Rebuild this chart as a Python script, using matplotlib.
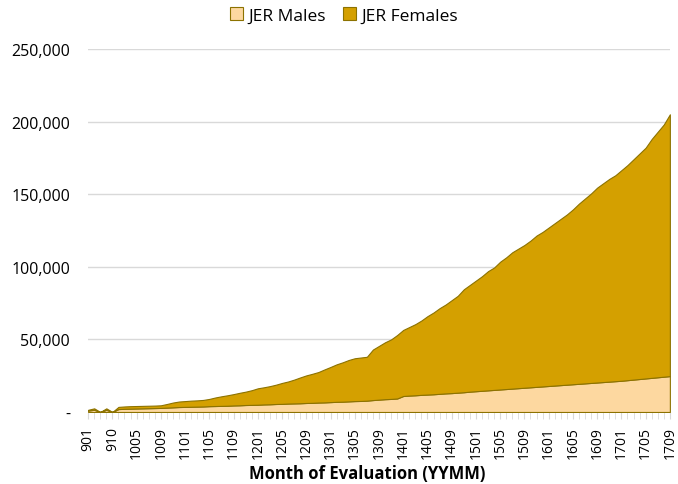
import matplotlib.pyplot as plt
import numpy as np

# month labels (YYMM); 2009 has gaps in the source data
months = ["901", "903", "905", "907", "910", "1002", "1003", "1004"]
for yy in range(10, 18):
    for mm in range(1, 13):
        if yy == 10 and mm < 5:
            continue
        if yy == 17 and mm > 9:
            continue
        months.append(f"{yy}{mm:02d}")

# values in thousands
males = [1.0, 1.5, 0, 1.5, 0, 2.0, 2.2, 2.3,
         2.4, 2.5, 2.6, 2.7, 2.8, 3.0, 3.2, 3.4,
         3.5, 3.6, 3.7, 3.8, 4.0, 4.1, 4.2, 4.3, 4.5, 4.6, 4.8, 4.9,
         5.0, 5.2, 5.3, 5.5, 5.6, 5.8, 5.9, 6.0, 6.2, 6.3, 6.5, 6.6,
         6.8, 7.0, 7.1, 7.3, 7.5, 7.6, 7.8, 8.2, 8.5, 8.8, 9.0, 9.3,
         11.0, 11.3, 11.5, 11.8, 12.0, 12.2, 12.5, 12.8, 13.0, 13.3, 13.6, 14.0,
         14.3, 14.6, 14.9, 15.2, 15.5, 15.8, 16.1, 16.4, 16.7, 17.0, 17.3, 17.6,
         17.9, 18.2, 18.5, 18.8, 19.1, 19.4, 19.7, 20.0, 20.3, 20.6, 20.9, 21.2,
         21.5, 21.9, 22.3, 22.7, 23.1, 23.5, 23.9, 24.3, 24.7]

females = [0.5, 1.0, 0, 1.0, 0, 1.5, 1.6, 1.7,
           1.7, 1.7, 1.7, 1.7, 1.8, 2.5, 3.3, 3.8,
           4.0, 4.2, 4.3, 4.5, 5.0, 5.9, 6.6, 7.2, 7.8, 8.6, 9.2, 10.1,
           11.3, 11.8, 12.5, 13.3, 14.4, 15.2, 16.4, 17.8, 19.0, 20.0, 21.0, 22.7,
           24.2, 25.8, 27.1, 28.5, 29.5, 29.9, 30.2, 34.8, 37.0, 39.2, 41.0, 43.7,
           45.5, 47.2, 49.0, 51.2, 54.0, 56.3, 59.0, 61.2, 64.0, 66.7, 70.9, 73.5,
           76.2, 78.9, 82.1, 84.3, 88.0, 90.7, 93.9, 96.1, 98.3, 101.0, 104.2, 106.4,
           109.1, 111.8, 114.5, 117.2, 120.4, 124.1, 127.3, 130.5, 134.2, 136.9, 139.6, 141.8,
           145.0, 148.1, 151.7, 155.3, 158.9, 164.5, 169.1, 173.7, 180.3]

plt.rcParams["font.family"] = ["Open Sans", "DejaVu Sans"]

x = np.arange(len(months))
m = np.array(males) * 1000
f = np.array(females) * 1000

fig = plt.figure(figsize=(6.78, 4.85), dpi=100)
ax = fig.add_axes([0.130, 0.1485, 0.858, 0.7485])

edge = "#8C7200"
ax.stackplot(x, m, f, colors=["#FDD8A0", "#D4A000"],
             edgecolor=edge, linewidth=0.8, labels=["JER Males", "JER Females"])

ax.set_xlim(0, len(months) - 1)
ax.set_ylim(0, 250000)
ax.set_yticks(np.arange(0, 250001, 50000))
ax.set_yticklabels(["-"] + [f"{v:,}" for v in range(50000, 250001, 50000)], fontsize=11.5)
ax.yaxis.grid(True, color="#D9D9D9", linewidth=1)
ax.set_axisbelow(True)
ax.tick_params(axis="y", length=0, pad=13)

ax.set_xticks(x, minor=True)
ax.set_xticks(x[::4])
ax.set_xticklabels(months[::4], rotation=90, fontsize=10)
ax.tick_params(axis="x", which="both", length=5, color="#D9D9D9", pad=5)

for s in ax.spines.values():
    s.set_visible(False)

ax.set_xlabel("Month of Evaluation (YYMM)", fontsize=12, fontweight="bold")
ax.xaxis.set_label_coords(0.48, -0.143)

ax.legend(loc="center", bbox_to_anchor=(0.44, 1.092), ncol=2, frameon=False,
          fontsize=12.5, handlelength=0.75, handleheight=0.75, columnspacing=1.0,
          handletextpad=0.3)

fig.savefig("out.png", dpi=100)
